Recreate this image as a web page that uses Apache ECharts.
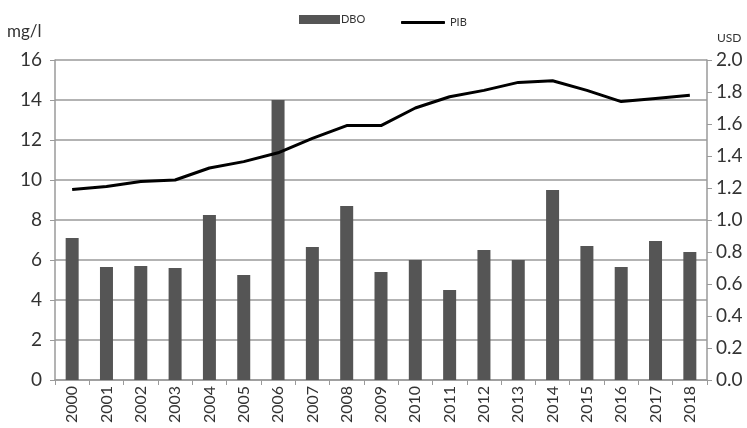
<!DOCTYPE html>
<html>
<head>
<meta charset="utf-8">
<script src="https://cdn.jsdelivr.net/npm/echarts@6/dist/echarts.min.js"></script>
<style>
  html, body { margin: 0; padding: 0; background: #fff; }
  #chart { width: 747px; height: 428px; }
</style>
</head>
<body>
<div id="chart"></div>
<script>
// años
const years = ['2000', '2001', '2002', '2003', '2004', '2005', '2006', '2007', '2008', '2009',
  '2010', '2011', '2012', '2013', '2014', '2015', '2016', '2017', '2018']
// DBO (mg/l)
const dbo = [7.1, 5.65, 5.7, 5.6, 8.25, 5.25, 14.0, 6.65, 8.7, 5.4,
  6.0, 4.5, 6.5, 6.0, 9.5, 6.7, 5.65, 6.95, 6.4]
// PIB (USD)
const pib = [1.19, 1.21, 1.24, 1.25, 1.325, 1.365, 1.42, 1.51, 1.59, 1.59,
  1.70, 1.77, 1.81, 1.86, 1.87, 1.81, 1.74, 1.76, 1.78]

const font = 'Lato'
const gridColor = '#9a9a9a'

const chart = echarts.init(document.getElementById('chart'))
chart.setOption({
  animation: false,
  textStyle: { fontFamily: font },
  legend: [
    {
      left: 294,
      top: 9,
      data: [{ name: 'DBO', icon: 'rect' }],
      itemWidth: 41,
      itemHeight: 9,
      itemGap: 4,
      textStyle: { fontSize: 11, color: '#333', padding: [0, 0, 0, -4] }
    },
    {
      left: 396,
      top: 12,
      data: [{ name: 'PIB', icon: 'roundRect' }],
      itemWidth: 44,
      itemHeight: 3,
      textStyle: { fontSize: 11, color: '#333', padding: [0, 0, 0, 0] }
    }
  ],
  grid: { left: 55, right: 40, top: 60, bottom: 48 },
  xAxis: {
    type: 'category',
    data: years,
    axisLine: { lineStyle: { color: gridColor, width: 1.5 } },
    axisTick: { show: true, length: 5, lineStyle: { color: gridColor } },
    axisLabel: { rotate: 90, fontSize: 16, color: '#333', margin: 6 }
  },
  yAxis: [
    {
      type: 'value',
      min: 0,
      max: 16,
      interval: 2,
      name: 'mg/l',
      nameLocation: 'end',
      nameGap: 20,
      nameTextStyle: { fontSize: 17, color: '#333', align: 'left', padding: [0, 0, 0, -48] },
      axisLine: { show: true, lineStyle: { color: gridColor, width: 1.5 } },
      axisTick: { show: true, length: 5, lineStyle: { color: gridColor } },
      axisLabel: { fontSize: 19, color: '#333', margin: 13 },
      splitLine: { lineStyle: { color: gridColor, width: 1.5 } }
    },
    {
      type: 'value',
      min: 0,
      max: 2,
      interval: 0.2,
      name: 'USD',
      nameLocation: 'end',
      nameGap: 16,
      nameTextStyle: { fontSize: 12, color: '#333', align: 'left', padding: [0, 0, 0, 10] },
      axisLine: { show: true, lineStyle: { color: gridColor, width: 1.5 } },
      axisTick: { show: true, length: 5, lineStyle: { color: gridColor } },
      axisLabel: { fontSize: 19, color: '#333', margin: 9, formatter: (v) => v.toFixed(1) },
      splitLine: { show: false }
    }
  ],
  series: [
    {
      name: 'DBO',
      type: 'bar',
      data: dbo,
      barWidth: 13,
      itemStyle: { color: '#555' }
    },
    {
      name: 'PIB',
      type: 'line',
      yAxisIndex: 1,
      data: pib,
      symbol: 'none',
      lineStyle: { color: '#000', width: 3 },
      itemStyle: { color: '#000' }
    }
  ]
})
</script>
</body>
</html>
